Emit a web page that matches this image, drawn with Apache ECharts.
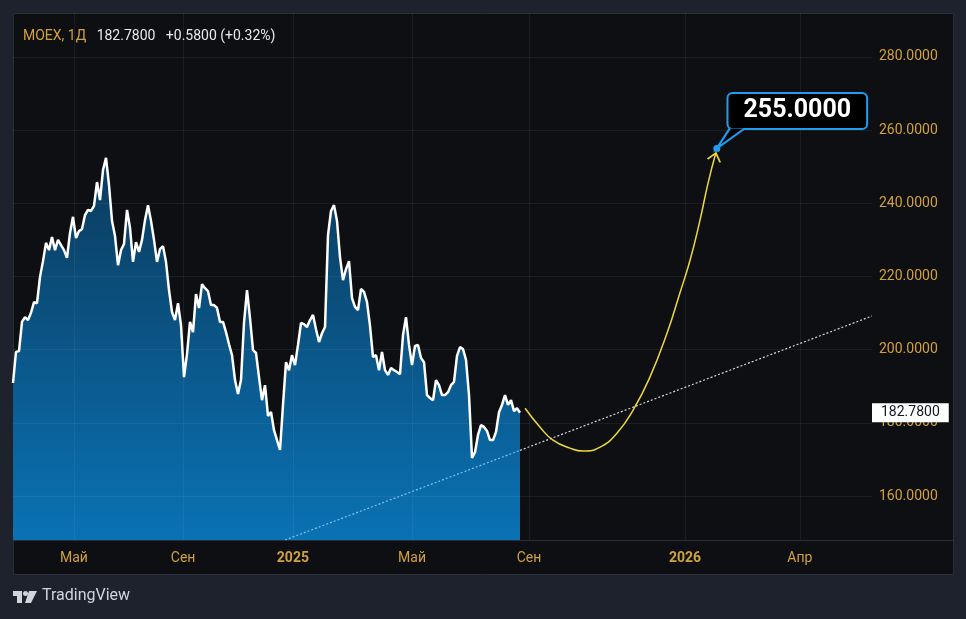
<!DOCTYPE html>
<html>
<head>
<meta charset="utf-8">
<script src="https://cdn.jsdelivr.net/npm/echarts@6/dist/echarts.min.js"></script>
<style>
  html, body { margin: 0; padding: 0; background: #1e222d; }
  #chart { width: 966px; height: 619px; }
</style>
</head>
<body>
<div id="chart"></div>
<script>
// MOEX daily closes, one value per bar slot (Apr 2024 -> end Aug 2025)
const prices = [
  190.9, 199.4, 199.6, 207.6, 208.9, 208.1, 210.1, 213.0, 212.7, 219.9,
  224.2, 229.2, 227.2, 230.8, 227.2, 230.0, 228.6, 227.2, 225.1, 231.9,
  236.3, 230.5, 232.4, 233.0, 236.8, 238.2, 237.9, 239.3, 245.8, 240.9,
  249.1, 252.4, 245.0, 235.2, 231.1, 223.1, 227.2, 228.9, 238.2, 233.3,
  224.0, 229.4, 226.7, 230.0, 235.4, 239.5, 235.2, 230.0, 224.0, 227.5,
  228.3, 224.0, 216.3, 210.3, 208.1, 212.7, 206.7, 192.5, 198.8, 207.6,
  204.8, 215.2, 211.4, 217.9, 216.8, 216.0, 212.2, 212.2, 211.4, 207.6,
  207.6, 204.8, 201.5, 198.5, 191.7, 187.9, 191.7, 207.3, 216.3, 208.6,
  199.9, 199.1, 192.5, 186.2, 190.3, 181.9, 183.0, 178.0, 175.3, 172.6,
  184.9, 196.6, 194.4, 198.5, 195.8, 201.3, 207.3, 207.0, 206.2, 208.1,
  209.5, 205.6, 202.1, 204.5, 206.2, 231.3, 237.9, 239.5, 235.2, 225.3,
  219.0, 222.0, 224.2, 214.1, 211.7, 210.8, 216.6, 215.8, 213.0, 206.5,
  198.0, 198.5, 194.4, 199.4, 194.4, 193.1, 195.0, 194.4, 193.9, 193.3,
  204.0, 208.9, 201.3, 195.8, 201.0, 201.3, 197.7, 196.6, 187.6, 186.8,
  186.2, 191.7, 190.3, 187.6, 187.6, 188.4, 190.3, 191.2, 198.3, 200.7,
  200.2, 197.2, 187.6, 170.4, 172.0, 176.7, 179.4, 178.9, 177.8, 175.3,
  175.3, 177.5, 182.9, 184.9, 187.6, 184.9, 186.2, 183.2, 184.0, 182.78
];
const lastPrice = 182.78;

// time scale labels (bar-slot positions)
const xTickPos = [20.3, 56.7, 93.3, 133, 172, 224, 262.3];
const xTickNames = ['Май', 'Сен', '2025', 'Май', 'Сен', '2026', 'Апр'];
const xMax = 286.33;

const yTicks = [160, 180, 200, 220, 240, 260, 280];
const yMin = 148;
const yMax = 292;

// dotted trend line drawing
const trendX = [90.7, 169, 286.3];
const trendY = [148, 172.5, 209.2];

// hand drawn forecast arc
const pathX = [170.7, 175.7, 180.0, 185.7, 190.0, 195.7, 201.3, 206.7, 212.3, 218.0, 222.3, 225.7, 229.0, 231.7, 234.3];
const pathY = [184.0, 178.8, 175.3, 173.1, 172.3, 173.4, 177.2, 183.5, 192.5, 204.5, 215.5, 224.5, 235.4, 245.6, 253.8];

const targetX = 234.6;
const targetPrice = 255;

const gold = '#d1a13c';
const blue = '#1e9df2';
const font = 'Roboto';

const chart = echarts.init(document.getElementById('chart'));

const priceData = prices.map((v, i) => [i, v]);

const option = {
  backgroundColor: '#1e222d',
  animation: false,
  textStyle: { fontFamily: font },
  title: {
    left: 18,
    top: 24,
    text: '{a|MOEX, 1Д}   {b|182.7800}   {b|+0.5800 (+0.32%)}',
    textStyle: {
      fontSize: 14,
      fontWeight: 'normal',
      rich: {
        a: { color: gold, fontSize: 14, fontFamily: font },
        b: { color: '#e8e9ec', fontSize: 14, fontFamily: font }
      }
    }
  },
  grid: { left: 13, top: 13, width: 859, height: 527 },
  xAxis: {
    type: 'value',
    min: 0,
    max: xMax,
    axisLine: { show: false },
    axisTick: { show: false },
    splitLine: { show: false },
    axisLabel: {
      customValues: xTickPos,
      margin: 11,
      color: gold,
      fontSize: 14,
      formatter: v => {
        const k = xTickPos.findIndex(p => Math.abs(p - v) < 0.01);
        if (k < 0) return '';
        const name = xTickNames[k];
        return /^\d+$/.test(name) ? '{yr|' + name + '}' : name;
      },
      rich: { yr: { fontWeight: 'bold', color: gold, fontSize: 14, fontFamily: font } }
    }
  },
  yAxis: {
    type: 'value',
    position: 'right',
    min: yMin,
    max: yMax,
    axisLine: { show: false },
    axisTick: { show: false },
    splitLine: { show: false },
    axisLabel: {
      customValues: yTicks,
      margin: 7,
      color: gold,
      fontSize: 14,
      formatter: v => (v % 20 === 0 ? v.toFixed(4) : '')
    }
  },
  graphic: [
    {
      type: 'rect', z: -10, silent: true,
      shape: { x: 13.5, y: 13.5, width: 940, height: 561 },
      style: { fill: '#0e0f13', stroke: '#2a2e39', lineWidth: 1 }
    },
    {
      type: 'line', z: 1, silent: true,
      shape: { x1: 13, y1: 540.5, x2: 953, y2: 540.5 },
      style: { stroke: '#2a2e39', lineWidth: 1 }
    },
    {
      type: 'polygon', silent: true,
      shape: { points: [[13, 591], [22, 591], [22, 603], [17, 603], [17, 596], [13, 596]] },
      style: { fill: '#d1d4dc' }
    },
    { type: 'circle', silent: true, shape: { cx: 25.5, cy: 593.5, r: 2.5 }, style: { fill: '#d1d4dc' } },
    {
      type: 'polygon', silent: true,
      shape: { points: [[29, 591], [37, 591], [31, 603], [25, 603]] },
      style: { fill: '#d1d4dc' }
    },
    {
      type: 'text', silent: true, left: 42, top: 588,
      style: { text: 'TradingView', fill: '#d1d4dc', font: '16px ' + font }
    }
  ],
  series: [
    {
      name: 'MOEX',
      type: 'line',
      z: 2,
      data: priceData,
      showSymbol: false,
      symbol: 'none',
      lineStyle: { color: '#ffffff', width: 2.5 },
      areaStyle: {
        origin: 'start',
        opacity: 1,
        color: new echarts.graphic.LinearGradient(0, 0, 0, 1, [
          { offset: 0, color: '#0b3a5c' },
          { offset: 1, color: '#0a72b4' }
        ])
      },
      markLine: {
        silent: true,
        symbol: ['none', 'none'],
        lineStyle: { color: 'rgba(0,0,0,0)', width: 1 },
        label: {
          show: true,
          position: 'end',
          distance: 0,
          formatter: lastPrice.toFixed(4),
          color: '#131722',
          fontSize: 14,
          backgroundColor: '#ffffff',
          padding: [3, 9, 2, 9]
        },
        data: [{ yAxis: lastPrice }]
      }
    },
    {
      name: 'grid',
      type: 'line',
      z: 3,
      data: [[0, yMin]],
      showSymbol: false,
      symbol: 'none',
      lineStyle: { width: 0 },
      markLine: {
        silent: true,
        symbol: ['none', 'none'],
        label: { show: false },
        lineStyle: { color: 'rgba(190,200,220,0.08)', width: 1, type: 'solid' },
        data: yTicks.map(v => ({ yAxis: v })).concat(xTickPos.map(v => ({ xAxis: v })))
      }
    },
    {
      name: 'trend-in',
      type: 'line',
      z: 4,
      data: [[trendX[0], trendY[0]], [trendX[1], trendY[1]]],
      symbol: 'none',
      lineStyle: { color: '#7cc4f0', width: 1.2, type: [2, 2] }
    },
    {
      name: 'trend-out',
      type: 'line',
      z: 4,
      data: [[trendX[1], trendY[1]], [trendX[2], trendY[2]]],
      symbol: 'none',
      lineStyle: { color: '#d6d8de', width: 1.2, type: [2, 2] }
    },
    {
      name: 'forecast',
      type: 'line',
      z: 5,
      smooth: true,
      data: pathX.map((x, i) => [x, pathY[i]]),
      symbol: 'none',
      lineStyle: { color: '#ecd83a', width: 1.5 }
    },
    {
      name: 'arrow',
      type: 'scatter',
      z: 5,
      data: [[pathX[pathX.length - 1], pathY[pathY.length - 1]]],
      symbol: 'path://M0,8 L6,0 L12,8',
      symbolSize: [13, 8],
      symbolRotate: -15,
      symbolOffset: [-1, 4],
      itemStyle: { color: 'transparent', borderColor: '#ecd83a', borderWidth: 1.5, opacity: 1 }
    },
    {
      name: 'callout',
      type: 'scatter',
      z: 6,
      data: [[targetX, targetPrice]],
      symbol: 'circle',
      symbolSize: 1,
      itemStyle: { color: 'transparent', opacity: 1 },
      label: {
        show: true,
        position: 'inside',
        offset: [80.5, -37.5],
        formatter: targetPrice.toFixed(4),
        color: '#ffffff',
        textBorderWidth: 0,
        textBorderColor: 'transparent',
        fontSize: 25,
        fontWeight: 'bold',
        fontFamily: font,
        lineHeight: 29,
        backgroundColor: '#000000',
        borderColor: blue,
        borderWidth: 2,
        borderRadius: 4,
        padding: [3, 15, 2, 15]
      }
    },
    {
      name: 'callout-tail',
      type: 'scatter',
      z: 7,
      data: [[targetX, targetPrice]],
      symbol: 'path://M13,0 L0,20 L28,0',
      symbolSize: [28, 20],
      symbolOffset: [14, -10],
      itemStyle: { color: '#000000', borderColor: blue, borderWidth: 2, opacity: 1 }
    },
    {
      name: 'target',
      type: 'scatter',
      z: 8,
      data: [[targetX, targetPrice]],
      symbol: 'circle',
      symbolSize: 7,
      itemStyle: { color: blue, opacity: 1 }
    }
  ]
};

chart.setOption(option);
</script>
</body>
</html>
